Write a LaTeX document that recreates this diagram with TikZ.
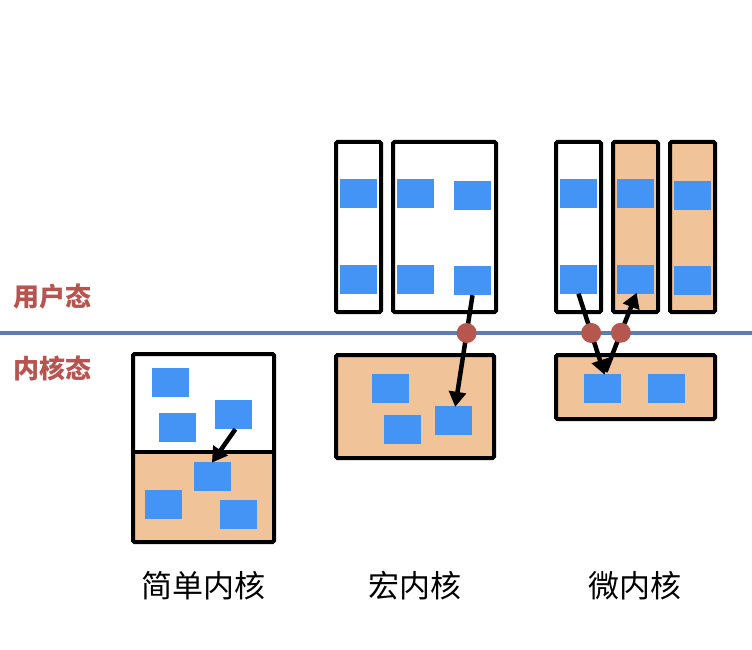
\documentclass[tikz,border=0pt]{standalone}
\usepackage{fontspec}
\setmainfont{Noto Sans CJK SC}
\usetikzlibrary{arrows.meta,calc}
\definecolor{blk}{RGB}{67,148,245}
\definecolor{org}{RGB}{240,195,153}
\definecolor{lbl}{RGB}{184,84,80}
\definecolor{dot}{RGB}{181,87,79}
\definecolor{sep}{RGB}{90,125,184}
\tikzset{
  frame/.style={draw=black,line width=4pt,rounded corners=1.5pt},
  blue/.style={fill=blk,draw=none,inner sep=0pt,minimum width=37pt,minimum height=29pt},
  call/.style={line width=4.5pt,draw=black,-{Triangle[length=15pt,width=17pt]},shorten >=-1pt},
  gate/.style={circle,fill=dot,draw=none,inner sep=0pt,minimum size=20pt},
  mode/.style={text=lbl,font=\bfseries\fontsize{26}{30}\selectfont},
  title/.style={font=\fontsize{31}{36}\selectfont}
}
\begin{document}
\begin{tikzpicture}[x=1pt,y=-1pt]
\useasboundingbox (0,0) rectangle (752,650);
% separator
\draw[sep,line width=3.5pt] (0,333) coordinate (l0) -- (752,333) coordinate (l1);
\node[mode] (um) at (52,297) {用户态};
\node[mode] (km) at (52,368) {内核态};

% simple kernel
\path[fill=org] (133,452) rectangle (274,542);
\draw[frame] (133,354) rectangle (274,542);
\draw[line width=3.5pt] (133,452) coordinate (d0) -- (274,452) coordinate (d1);
\node[blue] (s1) at (170.5,382.5) {};
\node[blue] (s2) at (177.5,427.5) {};
\node[blue] (s3) at (233.5,414.5) {};
\node[blue] (s4) at (212.5,476.5) {};
\node[blue] (s5) at (163.5,504.5) {};
\node[blue] (s6) at (238.5,514.5) {};
\draw[call] ($(s3.south west)!0.55!(s3.south east)$) -- ($(s4.north west)!0.5!(s4.north east)$);

% macro kernel
\draw[frame] (336,142) rectangle (381,312);
\draw[frame] (393,142) rectangle (496,312);
\draw[frame,fill=org] (336,355) rectangle (494,458);
\node[blue] (m1) at (358.5,193.5) {};
\node[blue] (m2) at (358.5,279) {};
\node[blue] (m3) at (415.5,193.5) {};
\node[blue] (m4) at (415.5,279) {};
\node[blue] (m5) at (472.5,195.5) {};
\node[blue] (m6) at (472.5,280.5) {};
\node[blue] (m7) at (390.5,388.5) {};
\node[blue] (m8) at (402.5,429.5) {};
\node[blue] (m9) at (453.5,420.5) {};
\coordinate (ma) at ($(m6.south west)!0.5!(m6.south east)$);
\coordinate (mb) at ($(m9.north west)!0.55!(m9.north east)$);
\draw[call] (ma) -- (mb);
\node[gate] (g1) at ($(ma)!0.342!(mb)$) {};

% micro kernel
\draw[frame] (556,142) rectangle (601,312);
\draw[frame,fill=org] (613,142) rectangle (658,312);
\draw[frame,fill=org] (670,142) rectangle (715,312);
\draw[frame,fill=org] (556,355) rectangle (715,419);
\node[blue] (u1) at (578.5,193.5) {};
\node[blue] (u2) at (578.5,279) {};
\node[blue] (u3) at (635.5,193.5) {};
\node[blue] (u4) at (635.5,279) {};
\node[blue] (u5) at (692.5,195.5) {};
\node[blue] (u6) at (692.5,280.5) {};
\node[blue] (u7) at (602.5,388.5) {};
\node[blue] (u8) at (666.5,388.5) {};
\coordinate (ua) at ($(u2.south west)!0.5!(u2.south east)$);
\coordinate (ub) at ($(u7.north west)!0.55!(u7.north east)$);
\coordinate (uc) at ($(u7.north west)!0.58!(u7.north east)+(0,-2)$);
\coordinate (ud) at ($(u4.south west)!0.52!(u4.south east)$);
\draw[call] (ua) -- (ub);
\draw[call] (uc) -- (ud);
\node[gate] (g2) at ($(ua)!0.49!(ub)$) {};
\node[gate] (g3) at ($(uc)!0.5!(ud)$) {};

% titles
\node[title] (t1) at (203,586) {简单内核};
\node[title] (t2) at (415,586) {宏内核};
\node[title] (t3) at (635,586) {微内核};
\end{tikzpicture}
\end{document}
